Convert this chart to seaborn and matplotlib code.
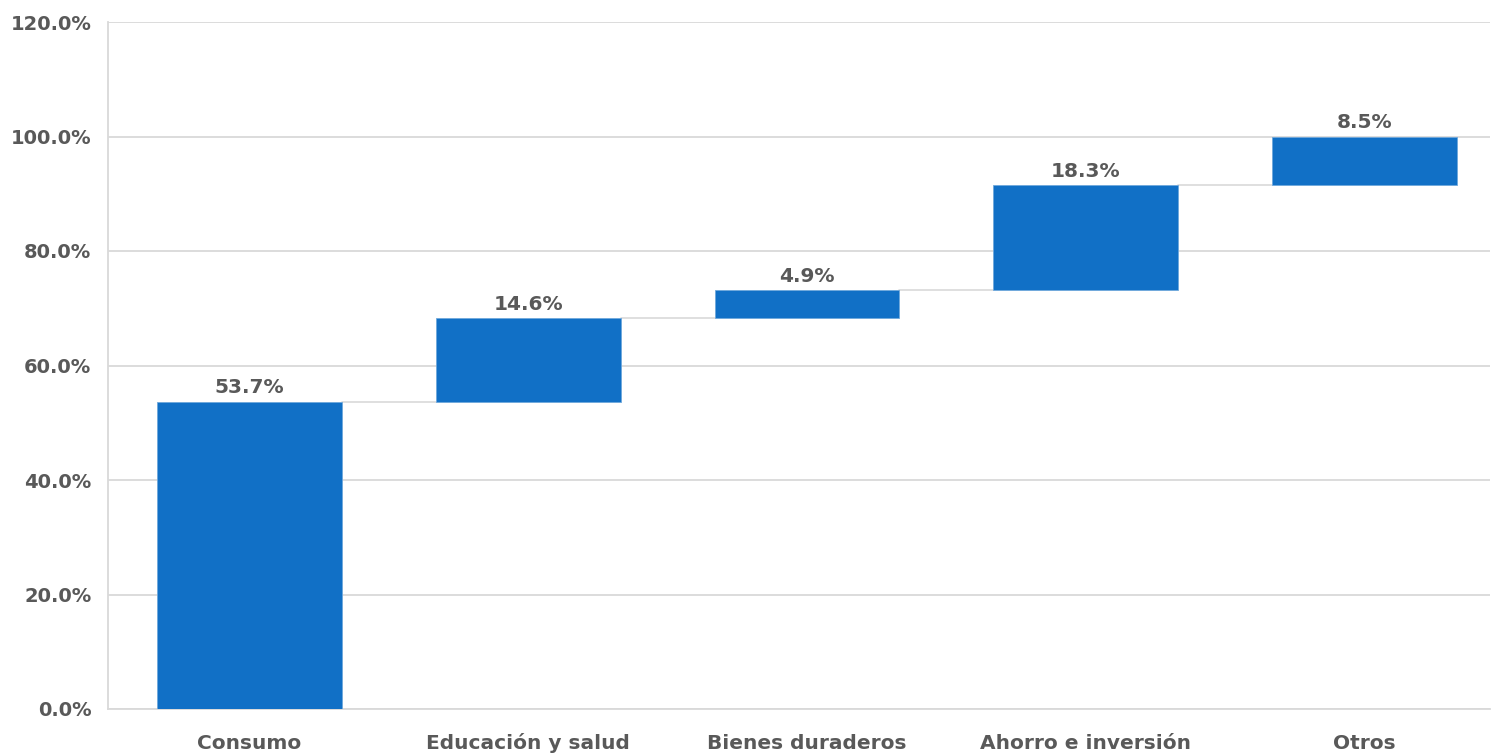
import matplotlib
matplotlib.use("Agg")
import matplotlib.pyplot as plt
import seaborn as sns
import numpy as np
import pandas as pd

categories = ["Consumo", "Educación y salud", "Bienes duraderos", "Ahorro e inversión", "Otros"]
values = [53.7, 14.6, 4.9, 18.3, 8.5]
yticks = [0, 20, 40, 60, 80, 100, 120]

sns.set_theme(style="white")
plt.rcParams['font.family'] = ['DejaVu Sans']

tops = np.cumsum(values)
bottoms = tops - np.array(values)
df = pd.DataFrame({"cat": categories, "val": values, "bottom": bottoms})

fig = plt.figure(figsize=(14.93, 7.56), dpi=100)
ax = fig.add_axes([108/1493, 1-709/756, (1490-108)/1493, (709-22)/756])

bar_color = "#1170C6"
text_color = "#595959"
grid_color = "#D9D9D9"
width = 0.663

sns.barplot(data=df, x="cat", y="val", bottom=df["bottom"], color=bar_color,
            width=width, ax=ax, saturation=1, zorder=3,
            edgecolor="#6FA8DC", linewidth=0.6)

# connectors
for i in range(len(values) - 1):
    ax.plot([i + width/2, i + 1 - width/2], [tops[i], tops[i]],
            color=grid_color, lw=1.2, zorder=2)

# labels
for i, v in enumerate(values):
    ax.annotate(f"{v:.1f}%", (i, tops[i]), xytext=(0, 3), textcoords="offset points",
                ha="center", va="bottom", fontsize=14.5, fontweight="bold", color=text_color)

ax.set_ylim(0, 120)
ax.set_xlim(-0.507, 4.45)
ax.set_yticks(yticks)
ax.set_yticklabels([f"{t:.1f}%" for t in yticks])
ax.yaxis.grid(True, color=grid_color, lw=1.3, zorder=0)
ax.set_axisbelow(True)
ax.set_xlabel("")
ax.set_ylabel("")
for s in ["top", "right"]:
    ax.spines[s].set_visible(False)
for s in ["left", "bottom"]:
    ax.spines[s].set_color(grid_color)
    ax.spines[s].set_linewidth(1.3)
ax.tick_params(axis="y", length=0, pad=12, labelsize=14, labelcolor=text_color)
ax.tick_params(axis="x", length=0, pad=29, labelsize=14.5, labelcolor=text_color)
for lab in ax.get_xticklabels():
    lab.set_fontweight("bold")
    lab.set_verticalalignment("baseline")
for lab in ax.get_yticklabels():
    lab.set_fontweight("bold")

fig.savefig("out.png", dpi=100)
